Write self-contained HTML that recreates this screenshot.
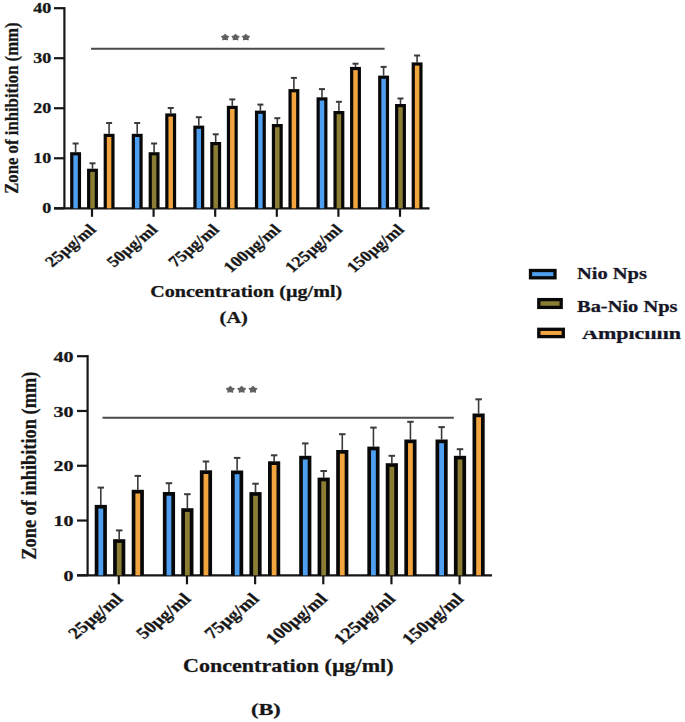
<!DOCTYPE html>
<html><head><meta charset="utf-8"><style>
html,body{margin:0;padding:0;background:#fff;}
svg{display:block;font-family:"Liberation Serif", serif;}
text{stroke:#161616;stroke-width:0.6px;stroke-opacity:0.45;}
</style></head><body>
<svg width="685" height="722" viewBox="0 0 685 722">
<rect width="685" height="722" fill="#fff"/>
<g>
<line x1="64.4" y1="7.1" x2="64.4" y2="208.3" stroke="#161616" stroke-width="2.2"/>
<line x1="54" y1="208.30" x2="64.4" y2="208.30" stroke="#161616" stroke-width="2.2"/>
<text x="51.3" y="213.40" text-anchor="end" font-size="14" font-weight="bold" fill="#161616" textLength="9.00" lengthAdjust="spacingAndGlyphs">0</text>
<line x1="54" y1="158.28" x2="64.4" y2="158.28" stroke="#161616" stroke-width="2.2"/>
<text x="51.3" y="163.38" text-anchor="end" font-size="14" font-weight="bold" fill="#161616" textLength="18.00" lengthAdjust="spacingAndGlyphs">10</text>
<line x1="54" y1="108.25" x2="64.4" y2="108.25" stroke="#161616" stroke-width="2.2"/>
<text x="51.3" y="113.35" text-anchor="end" font-size="14" font-weight="bold" fill="#161616" textLength="18.00" lengthAdjust="spacingAndGlyphs">20</text>
<line x1="54" y1="58.22" x2="64.4" y2="58.22" stroke="#161616" stroke-width="2.2"/>
<text x="51.3" y="63.32" text-anchor="end" font-size="14" font-weight="bold" fill="#161616" textLength="18.00" lengthAdjust="spacingAndGlyphs">30</text>
<line x1="54" y1="8.20" x2="64.4" y2="8.20" stroke="#161616" stroke-width="2.2"/>
<text x="51.3" y="13.30" text-anchor="end" font-size="14" font-weight="bold" fill="#161616" textLength="18.00" lengthAdjust="spacingAndGlyphs">40</text>
<line x1="54" y1="208.3" x2="429.5" y2="208.3" stroke="#161616" stroke-width="2.2"/>
<line x1="92.00" y1="208.3" x2="92.00" y2="216.8" stroke="#161616" stroke-width="2.2"/>
<line x1="75.60" y1="143.50" x2="75.60" y2="152.20" stroke="#3a3a3a" stroke-width="1.6"/>
<line x1="72.60" y1="143.50" x2="78.60" y2="143.50" stroke="#3a3a3a" stroke-width="2.0"/>
<rect x="70.15" y="152.20" width="10.90" height="56.10" fill="#080808"/>
<rect x="73.35" y="155.40" width="4.50" height="52.90" fill="#4f9ff0"/>
<line x1="92.50" y1="163.30" x2="92.50" y2="168.70" stroke="#3a3a3a" stroke-width="1.6"/>
<line x1="89.50" y1="163.30" x2="95.50" y2="163.30" stroke="#3a3a3a" stroke-width="2.0"/>
<rect x="87.05" y="168.70" width="10.90" height="39.60" fill="#080808"/>
<rect x="90.25" y="171.90" width="4.50" height="36.40" fill="#8c7d34"/>
<line x1="109.10" y1="123.00" x2="109.10" y2="133.80" stroke="#3a3a3a" stroke-width="1.6"/>
<line x1="106.10" y1="123.00" x2="112.10" y2="123.00" stroke="#3a3a3a" stroke-width="2.0"/>
<rect x="103.65" y="133.80" width="10.90" height="74.50" fill="#080808"/>
<rect x="106.85" y="137.00" width="4.50" height="71.30" fill="#f2a43e"/>
<text transform="translate(97.00,230.60) scale(1.2,1) rotate(-45)" text-anchor="end" font-size="15.2" font-weight="bold" fill="#161616">25µg/ml</text>
<line x1="153.60" y1="208.3" x2="153.60" y2="216.8" stroke="#161616" stroke-width="2.2"/>
<line x1="137.20" y1="123.00" x2="137.20" y2="133.80" stroke="#3a3a3a" stroke-width="1.6"/>
<line x1="134.20" y1="123.00" x2="140.20" y2="123.00" stroke="#3a3a3a" stroke-width="2.0"/>
<rect x="131.75" y="133.80" width="10.90" height="74.50" fill="#080808"/>
<rect x="134.95" y="137.00" width="4.50" height="71.30" fill="#4f9ff0"/>
<line x1="154.10" y1="143.50" x2="154.10" y2="152.20" stroke="#3a3a3a" stroke-width="1.6"/>
<line x1="151.10" y1="143.50" x2="157.10" y2="143.50" stroke="#3a3a3a" stroke-width="2.0"/>
<rect x="148.65" y="152.20" width="10.90" height="56.10" fill="#080808"/>
<rect x="151.85" y="155.40" width="4.50" height="52.90" fill="#8c7d34"/>
<line x1="170.70" y1="108.00" x2="170.70" y2="113.40" stroke="#3a3a3a" stroke-width="1.6"/>
<line x1="167.70" y1="108.00" x2="173.70" y2="108.00" stroke="#3a3a3a" stroke-width="2.0"/>
<rect x="165.25" y="113.40" width="10.90" height="94.90" fill="#080808"/>
<rect x="168.45" y="116.60" width="4.50" height="91.70" fill="#f2a43e"/>
<text transform="translate(158.60,230.60) scale(1.2,1) rotate(-45)" text-anchor="end" font-size="15.2" font-weight="bold" fill="#161616">50µg/ml</text>
<line x1="215.20" y1="208.3" x2="215.20" y2="216.8" stroke="#161616" stroke-width="2.2"/>
<line x1="198.80" y1="117.20" x2="198.80" y2="125.60" stroke="#3a3a3a" stroke-width="1.6"/>
<line x1="195.80" y1="117.20" x2="201.80" y2="117.20" stroke="#3a3a3a" stroke-width="2.0"/>
<rect x="193.35" y="125.60" width="10.90" height="82.70" fill="#080808"/>
<rect x="196.55" y="128.80" width="4.50" height="79.50" fill="#4f9ff0"/>
<line x1="215.70" y1="134.30" x2="215.70" y2="142.00" stroke="#3a3a3a" stroke-width="1.6"/>
<line x1="212.70" y1="134.30" x2="218.70" y2="134.30" stroke="#3a3a3a" stroke-width="2.0"/>
<rect x="210.25" y="142.00" width="10.90" height="66.30" fill="#080808"/>
<rect x="213.45" y="145.20" width="4.50" height="63.10" fill="#8c7d34"/>
<line x1="232.30" y1="99.40" x2="232.30" y2="105.80" stroke="#3a3a3a" stroke-width="1.6"/>
<line x1="229.30" y1="99.40" x2="235.30" y2="99.40" stroke="#3a3a3a" stroke-width="2.0"/>
<rect x="226.85" y="105.80" width="10.90" height="102.50" fill="#080808"/>
<rect x="230.05" y="109.00" width="4.50" height="99.30" fill="#f2a43e"/>
<text transform="translate(220.20,230.60) scale(1.2,1) rotate(-45)" text-anchor="end" font-size="15.2" font-weight="bold" fill="#161616">75µg/ml</text>
<line x1="276.80" y1="208.3" x2="276.80" y2="216.8" stroke="#161616" stroke-width="2.2"/>
<line x1="260.40" y1="104.60" x2="260.40" y2="110.60" stroke="#3a3a3a" stroke-width="1.6"/>
<line x1="257.40" y1="104.60" x2="263.40" y2="104.60" stroke="#3a3a3a" stroke-width="2.0"/>
<rect x="254.95" y="110.60" width="10.90" height="97.70" fill="#080808"/>
<rect x="258.15" y="113.80" width="4.50" height="94.50" fill="#4f9ff0"/>
<line x1="277.30" y1="118.20" x2="277.30" y2="124.00" stroke="#3a3a3a" stroke-width="1.6"/>
<line x1="274.30" y1="118.20" x2="280.30" y2="118.20" stroke="#3a3a3a" stroke-width="2.0"/>
<rect x="271.85" y="124.00" width="10.90" height="84.30" fill="#080808"/>
<rect x="275.05" y="127.20" width="4.50" height="81.10" fill="#8c7d34"/>
<line x1="293.90" y1="77.90" x2="293.90" y2="89.10" stroke="#3a3a3a" stroke-width="1.6"/>
<line x1="290.90" y1="77.90" x2="296.90" y2="77.90" stroke="#3a3a3a" stroke-width="2.0"/>
<rect x="288.45" y="89.10" width="10.90" height="119.20" fill="#080808"/>
<rect x="291.65" y="92.30" width="4.50" height="116.00" fill="#f2a43e"/>
<text transform="translate(281.80,230.60) scale(1.2,1) rotate(-45)" text-anchor="end" font-size="15.2" font-weight="bold" fill="#161616">100µg/ml</text>
<line x1="338.40" y1="208.3" x2="338.40" y2="216.8" stroke="#161616" stroke-width="2.2"/>
<line x1="322.00" y1="89.10" x2="322.00" y2="97.30" stroke="#3a3a3a" stroke-width="1.6"/>
<line x1="319.00" y1="89.10" x2="325.00" y2="89.10" stroke="#3a3a3a" stroke-width="2.0"/>
<rect x="316.55" y="97.30" width="10.90" height="111.00" fill="#080808"/>
<rect x="319.75" y="100.50" width="4.50" height="107.80" fill="#4f9ff0"/>
<line x1="338.90" y1="101.80" x2="338.90" y2="111.00" stroke="#3a3a3a" stroke-width="1.6"/>
<line x1="335.90" y1="101.80" x2="341.90" y2="101.80" stroke="#3a3a3a" stroke-width="2.0"/>
<rect x="333.45" y="111.00" width="10.90" height="97.30" fill="#080808"/>
<rect x="336.65" y="114.20" width="4.50" height="94.10" fill="#8c7d34"/>
<line x1="355.50" y1="63.70" x2="355.50" y2="66.90" stroke="#3a3a3a" stroke-width="1.6"/>
<line x1="352.50" y1="63.70" x2="358.50" y2="63.70" stroke="#3a3a3a" stroke-width="2.0"/>
<rect x="350.05" y="66.90" width="10.90" height="141.40" fill="#080808"/>
<rect x="353.25" y="70.10" width="4.50" height="138.20" fill="#f2a43e"/>
<text transform="translate(343.40,230.60) scale(1.2,1) rotate(-45)" text-anchor="end" font-size="15.2" font-weight="bold" fill="#161616">125µg/ml</text>
<line x1="400.00" y1="208.3" x2="400.00" y2="216.8" stroke="#161616" stroke-width="2.2"/>
<line x1="383.60" y1="66.90" x2="383.60" y2="75.60" stroke="#3a3a3a" stroke-width="1.6"/>
<line x1="380.60" y1="66.90" x2="386.60" y2="66.90" stroke="#3a3a3a" stroke-width="2.0"/>
<rect x="378.15" y="75.60" width="10.90" height="132.70" fill="#080808"/>
<rect x="381.35" y="78.80" width="4.50" height="129.50" fill="#4f9ff0"/>
<line x1="400.50" y1="98.50" x2="400.50" y2="104.00" stroke="#3a3a3a" stroke-width="1.6"/>
<line x1="397.50" y1="98.50" x2="403.50" y2="98.50" stroke="#3a3a3a" stroke-width="2.0"/>
<rect x="395.05" y="104.00" width="10.90" height="104.30" fill="#080808"/>
<rect x="398.25" y="107.20" width="4.50" height="101.10" fill="#8c7d34"/>
<line x1="417.10" y1="55.50" x2="417.10" y2="62.40" stroke="#3a3a3a" stroke-width="1.6"/>
<line x1="414.10" y1="55.50" x2="420.10" y2="55.50" stroke="#3a3a3a" stroke-width="2.0"/>
<rect x="411.65" y="62.40" width="10.90" height="145.90" fill="#080808"/>
<rect x="414.85" y="65.60" width="4.50" height="142.70" fill="#f2a43e"/>
<text transform="translate(405.00,230.60) scale(1.2,1) rotate(-45)" text-anchor="end" font-size="15.2" font-weight="bold" fill="#161616">150µg/ml</text>
<line x1="91" y1="48.7" x2="384.6" y2="48.7" stroke="#4a4a4a" stroke-width="1.9"/>
<polygon points="225.10,34.40 226.47,35.90 228.67,36.47 227.31,37.97 227.30,39.83 225.10,39.26 222.90,39.83 222.89,37.97 221.53,36.47 223.73,35.90" fill="#606060" stroke="#606060" stroke-width="1.1" stroke-linejoin="round"/>
<polygon points="235.50,34.40 236.87,35.90 239.07,36.47 237.71,37.97 237.70,39.83 235.50,39.26 233.30,39.83 233.29,37.97 231.93,36.47 234.13,35.90" fill="#606060" stroke="#606060" stroke-width="1.1" stroke-linejoin="round"/>
<polygon points="245.90,34.40 247.27,35.90 249.47,36.47 248.11,37.97 248.10,39.83 245.90,39.26 243.70,39.83 243.69,37.97 242.33,36.47 244.53,35.90" fill="#606060" stroke="#606060" stroke-width="1.1" stroke-linejoin="round"/>
<text transform="translate(17.8,108.1) rotate(-90)" text-anchor="middle" font-size="18.8" font-weight="bold" fill="#161616" textLength="171.4" lengthAdjust="spacingAndGlyphs">Zone of inhibition (mm)</text>
<text x="150.2" y="297" font-size="16.9" font-weight="bold" fill="#161616" textLength="192" lengthAdjust="spacingAndGlyphs">Concentration (µg/ml)</text>
<text x="219.6" y="322.5" font-size="15.8" font-weight="bold" fill="#161616" textLength="28.3" lengthAdjust="spacingAndGlyphs">(A)</text>
<line x1="87.6" y1="355.09999999999997" x2="87.6" y2="575.3" stroke="#161616" stroke-width="2.2"/>
<line x1="77" y1="575.30" x2="87.6" y2="575.30" stroke="#161616" stroke-width="2.2"/>
<text x="73.5" y="580.90" text-anchor="end" font-size="15.5" font-weight="bold" fill="#161616" textLength="10.00" lengthAdjust="spacingAndGlyphs">0</text>
<line x1="77" y1="520.52" x2="87.6" y2="520.52" stroke="#161616" stroke-width="2.2"/>
<text x="73.5" y="526.12" text-anchor="end" font-size="15.5" font-weight="bold" fill="#161616" textLength="20.00" lengthAdjust="spacingAndGlyphs">10</text>
<line x1="77" y1="465.75" x2="87.6" y2="465.75" stroke="#161616" stroke-width="2.2"/>
<text x="73.5" y="471.35" text-anchor="end" font-size="15.5" font-weight="bold" fill="#161616" textLength="20.00" lengthAdjust="spacingAndGlyphs">20</text>
<line x1="77" y1="410.97" x2="87.6" y2="410.97" stroke="#161616" stroke-width="2.2"/>
<text x="73.5" y="416.57" text-anchor="end" font-size="15.5" font-weight="bold" fill="#161616" textLength="20.00" lengthAdjust="spacingAndGlyphs">30</text>
<line x1="77" y1="356.20" x2="87.6" y2="356.20" stroke="#161616" stroke-width="2.2"/>
<text x="73.5" y="361.80" text-anchor="end" font-size="15.5" font-weight="bold" fill="#161616" textLength="20.00" lengthAdjust="spacingAndGlyphs">40</text>
<line x1="77" y1="575.3" x2="492" y2="575.3" stroke="#161616" stroke-width="2.2"/>
<line x1="118.80" y1="575.3" x2="118.80" y2="584.3" stroke="#161616" stroke-width="2.2"/>
<line x1="100.80" y1="487.60" x2="100.80" y2="504.90" stroke="#3a3a3a" stroke-width="1.6"/>
<line x1="97.55" y1="487.60" x2="104.05" y2="487.60" stroke="#3a3a3a" stroke-width="2.0"/>
<rect x="94.70" y="504.90" width="12.20" height="70.40" fill="#080808"/>
<rect x="98.40" y="508.60" width="4.80" height="66.70" fill="#4f9ff0"/>
<line x1="119.20" y1="530.40" x2="119.20" y2="539.20" stroke="#3a3a3a" stroke-width="1.6"/>
<line x1="115.95" y1="530.40" x2="122.45" y2="530.40" stroke="#3a3a3a" stroke-width="2.0"/>
<rect x="113.10" y="539.20" width="12.20" height="36.10" fill="#080808"/>
<rect x="116.80" y="542.90" width="4.80" height="32.40" fill="#8c7d34"/>
<line x1="137.80" y1="475.90" x2="137.80" y2="489.80" stroke="#3a3a3a" stroke-width="1.6"/>
<line x1="134.55" y1="475.90" x2="141.05" y2="475.90" stroke="#3a3a3a" stroke-width="2.0"/>
<rect x="131.70" y="489.80" width="12.20" height="85.50" fill="#080808"/>
<rect x="135.40" y="493.50" width="4.80" height="81.80" fill="#f2a43e"/>
<text transform="translate(123.80,599.90) scale(1.2,1) rotate(-45)" text-anchor="end" font-size="16.3" font-weight="bold" fill="#161616">25µg/ml</text>
<line x1="186.96" y1="575.3" x2="186.96" y2="584.3" stroke="#161616" stroke-width="2.2"/>
<line x1="168.96" y1="483.20" x2="168.96" y2="492.00" stroke="#3a3a3a" stroke-width="1.6"/>
<line x1="165.71" y1="483.20" x2="172.21" y2="483.20" stroke="#3a3a3a" stroke-width="2.0"/>
<rect x="162.86" y="492.00" width="12.20" height="83.30" fill="#080808"/>
<rect x="166.56" y="495.70" width="4.80" height="79.60" fill="#4f9ff0"/>
<line x1="187.36" y1="494.20" x2="187.36" y2="508.20" stroke="#3a3a3a" stroke-width="1.6"/>
<line x1="184.11" y1="494.20" x2="190.61" y2="494.20" stroke="#3a3a3a" stroke-width="2.0"/>
<rect x="181.26" y="508.20" width="12.20" height="67.10" fill="#080808"/>
<rect x="184.96" y="511.90" width="4.80" height="63.40" fill="#8c7d34"/>
<line x1="205.96" y1="461.50" x2="205.96" y2="470.30" stroke="#3a3a3a" stroke-width="1.6"/>
<line x1="202.71" y1="461.50" x2="209.21" y2="461.50" stroke="#3a3a3a" stroke-width="2.0"/>
<rect x="199.86" y="470.30" width="12.20" height="105.00" fill="#080808"/>
<rect x="203.56" y="474.00" width="4.80" height="101.30" fill="#f2a43e"/>
<text transform="translate(191.96,599.90) scale(1.2,1) rotate(-45)" text-anchor="end" font-size="16.3" font-weight="bold" fill="#161616">50µg/ml</text>
<line x1="255.12" y1="575.3" x2="255.12" y2="584.3" stroke="#161616" stroke-width="2.2"/>
<line x1="237.12" y1="457.90" x2="237.12" y2="470.50" stroke="#3a3a3a" stroke-width="1.6"/>
<line x1="233.87" y1="457.90" x2="240.37" y2="457.90" stroke="#3a3a3a" stroke-width="2.0"/>
<rect x="231.02" y="470.50" width="12.20" height="104.80" fill="#080808"/>
<rect x="234.72" y="474.20" width="4.80" height="101.10" fill="#4f9ff0"/>
<line x1="255.52" y1="483.70" x2="255.52" y2="492.10" stroke="#3a3a3a" stroke-width="1.6"/>
<line x1="252.27" y1="483.70" x2="258.77" y2="483.70" stroke="#3a3a3a" stroke-width="2.0"/>
<rect x="249.42" y="492.10" width="12.20" height="83.20" fill="#080808"/>
<rect x="253.12" y="495.80" width="4.80" height="79.50" fill="#8c7d34"/>
<line x1="274.12" y1="455.30" x2="274.12" y2="461.30" stroke="#3a3a3a" stroke-width="1.6"/>
<line x1="270.87" y1="455.30" x2="277.37" y2="455.30" stroke="#3a3a3a" stroke-width="2.0"/>
<rect x="268.02" y="461.30" width="12.20" height="114.00" fill="#080808"/>
<rect x="271.72" y="465.00" width="4.80" height="110.30" fill="#f2a43e"/>
<text transform="translate(260.12,599.90) scale(1.2,1) rotate(-45)" text-anchor="end" font-size="16.3" font-weight="bold" fill="#161616">75µg/ml</text>
<line x1="323.28" y1="575.3" x2="323.28" y2="584.3" stroke="#161616" stroke-width="2.2"/>
<line x1="305.28" y1="443.40" x2="305.28" y2="455.80" stroke="#3a3a3a" stroke-width="1.6"/>
<line x1="302.03" y1="443.40" x2="308.53" y2="443.40" stroke="#3a3a3a" stroke-width="2.0"/>
<rect x="299.18" y="455.80" width="12.20" height="119.50" fill="#080808"/>
<rect x="302.88" y="459.50" width="4.80" height="115.80" fill="#4f9ff0"/>
<line x1="323.68" y1="471.00" x2="323.68" y2="477.60" stroke="#3a3a3a" stroke-width="1.6"/>
<line x1="320.43" y1="471.00" x2="326.93" y2="471.00" stroke="#3a3a3a" stroke-width="2.0"/>
<rect x="317.58" y="477.60" width="12.20" height="97.70" fill="#080808"/>
<rect x="321.28" y="481.30" width="4.80" height="94.00" fill="#8c7d34"/>
<line x1="342.28" y1="434.20" x2="342.28" y2="450.00" stroke="#3a3a3a" stroke-width="1.6"/>
<line x1="339.03" y1="434.20" x2="345.53" y2="434.20" stroke="#3a3a3a" stroke-width="2.0"/>
<rect x="336.18" y="450.00" width="12.20" height="125.30" fill="#080808"/>
<rect x="339.88" y="453.70" width="4.80" height="121.60" fill="#f2a43e"/>
<text transform="translate(328.28,599.90) scale(1.2,1) rotate(-45)" text-anchor="end" font-size="16.3" font-weight="bold" fill="#161616">100µg/ml</text>
<line x1="391.44" y1="575.3" x2="391.44" y2="584.3" stroke="#161616" stroke-width="2.2"/>
<line x1="373.44" y1="427.60" x2="373.44" y2="446.60" stroke="#3a3a3a" stroke-width="1.6"/>
<line x1="370.19" y1="427.60" x2="376.69" y2="427.60" stroke="#3a3a3a" stroke-width="2.0"/>
<rect x="367.34" y="446.60" width="12.20" height="128.70" fill="#080808"/>
<rect x="371.04" y="450.30" width="4.80" height="125.00" fill="#4f9ff0"/>
<line x1="391.84" y1="455.80" x2="391.84" y2="463.20" stroke="#3a3a3a" stroke-width="1.6"/>
<line x1="388.59" y1="455.80" x2="395.09" y2="455.80" stroke="#3a3a3a" stroke-width="2.0"/>
<rect x="385.74" y="463.20" width="12.20" height="112.10" fill="#080808"/>
<rect x="389.44" y="466.90" width="4.80" height="108.40" fill="#8c7d34"/>
<line x1="410.44" y1="421.80" x2="410.44" y2="439.50" stroke="#3a3a3a" stroke-width="1.6"/>
<line x1="407.19" y1="421.80" x2="413.69" y2="421.80" stroke="#3a3a3a" stroke-width="2.0"/>
<rect x="404.34" y="439.50" width="12.20" height="135.80" fill="#080808"/>
<rect x="408.04" y="443.20" width="4.80" height="132.10" fill="#f2a43e"/>
<text transform="translate(396.44,599.90) scale(1.2,1) rotate(-45)" text-anchor="end" font-size="16.3" font-weight="bold" fill="#161616">125µg/ml</text>
<line x1="459.60" y1="575.3" x2="459.60" y2="584.3" stroke="#161616" stroke-width="2.2"/>
<line x1="441.60" y1="427.10" x2="441.60" y2="439.50" stroke="#3a3a3a" stroke-width="1.6"/>
<line x1="438.35" y1="427.10" x2="444.85" y2="427.10" stroke="#3a3a3a" stroke-width="2.0"/>
<rect x="435.50" y="439.50" width="12.20" height="135.80" fill="#080808"/>
<rect x="439.20" y="443.20" width="4.80" height="132.10" fill="#4f9ff0"/>
<line x1="460.00" y1="449.20" x2="460.00" y2="455.80" stroke="#3a3a3a" stroke-width="1.6"/>
<line x1="456.75" y1="449.20" x2="463.25" y2="449.20" stroke="#3a3a3a" stroke-width="2.0"/>
<rect x="453.90" y="455.80" width="12.20" height="119.50" fill="#080808"/>
<rect x="457.60" y="459.50" width="4.80" height="115.80" fill="#8c7d34"/>
<line x1="478.60" y1="399.30" x2="478.60" y2="413.50" stroke="#3a3a3a" stroke-width="1.6"/>
<line x1="475.35" y1="399.30" x2="481.85" y2="399.30" stroke="#3a3a3a" stroke-width="2.0"/>
<rect x="472.50" y="413.50" width="12.20" height="161.80" fill="#080808"/>
<rect x="476.20" y="417.20" width="4.80" height="158.10" fill="#f2a43e"/>
<text transform="translate(464.60,599.90) scale(1.2,1) rotate(-45)" text-anchor="end" font-size="16.3" font-weight="bold" fill="#161616">150µg/ml</text>
<line x1="102.5" y1="417.8" x2="453.8" y2="417.8" stroke="#4a4a4a" stroke-width="1.9"/>
<polygon points="230.30,386.40 231.76,387.99 234.10,388.61 232.66,390.21 232.65,392.19 230.30,391.58 227.95,392.19 227.94,390.21 226.50,388.61 228.84,387.99" fill="#606060" stroke="#606060" stroke-width="1.1" stroke-linejoin="round"/>
<polygon points="241.65,386.40 243.11,387.99 245.45,388.61 244.01,390.21 244.00,392.19 241.65,391.58 239.30,392.19 239.29,390.21 237.85,388.61 240.19,387.99" fill="#606060" stroke="#606060" stroke-width="1.1" stroke-linejoin="round"/>
<polygon points="253.00,386.40 254.46,387.99 256.80,388.61 255.36,390.21 255.35,392.19 253.00,391.58 250.65,392.19 250.64,390.21 249.20,388.61 251.54,387.99" fill="#606060" stroke="#606060" stroke-width="1.1" stroke-linejoin="round"/>
<text transform="translate(36.3,465.7) rotate(-90)" text-anchor="middle" font-size="20.5" font-weight="bold" fill="#161616" textLength="188" lengthAdjust="spacingAndGlyphs">Zone of inhibition (mm)</text>
<text x="183" y="671.7" font-size="18.3" font-weight="bold" fill="#161616" textLength="210.6" lengthAdjust="spacingAndGlyphs">Concentration (µg/ml)</text>
<text x="251" y="714.6" font-size="17" font-weight="bold" fill="#161616" textLength="29.8" lengthAdjust="spacingAndGlyphs">(B)</text>
<rect x="530.5" y="270.5" width="24.5" height="7.3" fill="#4f9ff0" stroke="#080808" stroke-width="3.3"/>
<rect x="538.8" y="299.6" width="22.4" height="7.8" fill="#8c7d34" stroke="#080808" stroke-width="3.3"/>
<rect x="538.8" y="329.3" width="24.5" height="7.3" fill="#f2a43e" stroke="#080808" stroke-width="3.3"/>
<text x="577" y="278.8" font-size="16.3" font-weight="bold" fill="#15152a" textLength="70" lengthAdjust="spacingAndGlyphs">Nio Nps</text>
<text x="577" y="311.5" font-size="16.3" font-weight="bold" fill="#15152a" textLength="100.5" lengthAdjust="spacingAndGlyphs">Ba-Nio Nps</text>
<clipPath id="amp"><rect x="570" y="330.8" width="115" height="20"/></clipPath>
<text x="582" y="339.1" font-size="16.5" font-weight="bold" fill="#15152a" textLength="99" lengthAdjust="spacingAndGlyphs" clip-path="url(#amp)">Ampicillin</text>
</g>
</svg>
</body></html>
